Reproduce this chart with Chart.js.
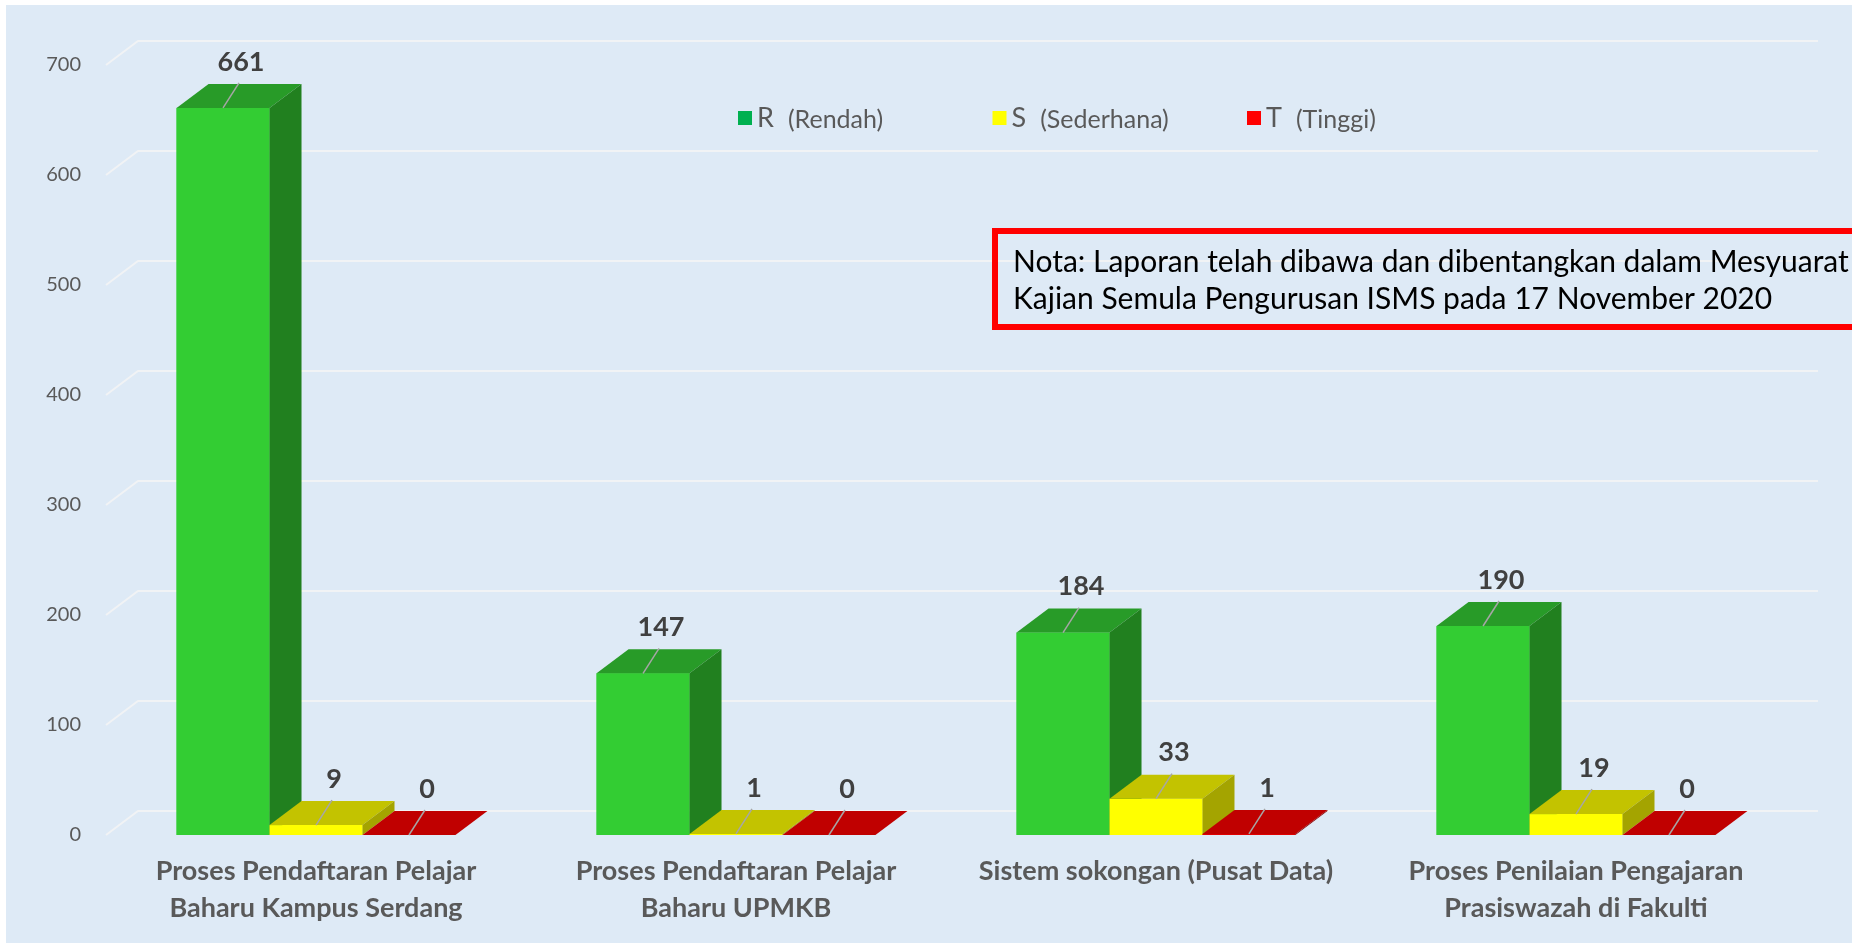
<!DOCTYPE html>
<html>
<head>
<meta charset="utf-8">
<title>Penilaian Risiko ISMS</title>
<script src="https://cdn.jsdelivr.net/npm/chart.js@4.4.1/dist/chart.umd.min.js"></script>
<style>
    html, body { margin: 0; padding: 0; background: #fff; overflow: hidden; }
    #wrap { position: relative; width: 1852px; height: 943px; }
    canvas { display: block; }
</style>
</head>
<body>
<div id="wrap"><canvas id="chart-risk" width="1852" height="943"></canvas></div>
<script>
// Kategori proses (label paksi-x, dua baris)
const categories = [
    ['Proses Pendaftaran Pelajar', 'Baharu Kampus Serdang'],
    ['Proses Pendaftaran Pelajar', 'Baharu UPMKB'],
    ['Sistem sokongan (Pusat Data)'],
    ['Proses Penilaian Pengajaran', 'Prasiswazah di Fakulti']
];

// Bilangan risiko mengikut tahap
const rendah = [661, 147, 184, 190];
const sederhana = [9, 1, 33, 19];
const tinggi = [0, 0, 1, 0];

const seriesCodes = ['R', 'S', 'T'];
const seriesNames = ['(Rendah)', '(Sederhana)', '(Tinggi)'];
const yTicks = [0, 100, 200, 300, 400, 500, 600, 700];

const noteLines = [
    'Nota: Laporan telah dibawa dan dibentangkan dalam Mesyuarat',
    'Kajian Semula Pengurusan ISMS pada 17 November 2020'
];

// Colours for the 3D boxes: front / top / side
const FRONT = ['#33CD33', '#FFFF00', '#E00000'];
const TOP = ['#289B28', '#C3C300', '#C00000'];
const SIDE = ['#21801F', '#A4A400', '#8C0000'];
const LEGEND = ['#00B050', '#FFFF00', '#FF0000'];

const TEXT_GREY = '#595959';
const FONT = 'Lato';

// depth of the fake 3D
const DX = 32, DY = 24;

/**
 * Background, white margin and the 3D back-wall gridlines
 */
const backdropPlugin = {
    id: 'backdrop',
    beforeDraw(chart) {
        const ctx = chart.ctx;
        const area = chart.chartArea;
        const y = chart.scales.y;
        ctx.save();
        ctx.fillStyle = '#ffffff';
        ctx.fillRect(0, 0, chart.width, chart.height);
        ctx.fillStyle = '#DEEAF6';
        ctx.fillRect(6, 5, chart.width - 6, chart.height - 5);

        ctx.strokeStyle = '#F1F3F5';
        ctx.lineWidth = 2;
        y.ticks.forEach(t => {
            const py = y.getPixelForValue(t.value);
            ctx.beginPath();
            ctx.moveTo(area.left, py);
            ctx.lineTo(area.left + DX, py - DY);
            ctx.lineTo(area.right + DX, py - DY);
            ctx.stroke();
        });
        ctx.restore();
    }
};

/**
 * Draw each bar as a box (front, top, side), then the value labels
 */
const boxPlugin = {
    id: 'boxes',
    afterDatasetsDraw(chart) {
        const ctx = chart.ctx;
        const nSets = chart.data.datasets.length;
        ctx.save();
        for (let i = 0; i < categories.length; i++) {
            for (let d = 0; d < nSets; d++) {
                const el = chart.getDatasetMeta(d).data[i];
                const { x, y, base, width } = el.getProps(['x', 'y', 'base', 'width'], true);
                const left = x - width / 2, right = x + width / 2;

                ctx.fillStyle = FRONT[d];
                ctx.fillRect(left, y, width, base - y);

                ctx.fillStyle = TOP[d];
                ctx.beginPath();
                ctx.moveTo(left, y);
                ctx.lineTo(left + DX, y - DY);
                ctx.lineTo(right + DX, y - DY);
                ctx.lineTo(right, y);
                ctx.closePath();
                ctx.fill();

                if (base - y > 0.5) {
                    ctx.fillStyle = SIDE[d];
                    ctx.beginPath();
                    ctx.moveTo(right, y);
                    ctx.lineTo(right + DX, y - DY);
                    ctx.lineTo(right + DX, base - DY);
                    ctx.lineTo(right, base);
                    ctx.closePath();
                    ctx.fill();
                }
            }
        }

        // value labels with leader lines
        ctx.font = `bold 27px ${FONT}`;
        ctx.textAlign = 'center';
        ctx.textBaseline = 'middle';
        for (let d = 0; d < nSets; d++) {
            const values = chart.data.datasets[d].data;
            chart.getDatasetMeta(d).data.forEach((el, i) => {
                const { x, y } = el.getProps(['x', 'y'], true);
                const lx = x + 18, ly = y - 46;
                ctx.strokeStyle = '#A6A6A6';
                ctx.lineWidth = 1.5;
                ctx.beginPath();
                ctx.moveTo(lx - 2, ly + 21);
                ctx.lineTo(x, y);
                ctx.stroke();
                ctx.fillStyle = '#404040';
                ctx.fillText(String(values[i]), lx, ly);
            });
        }
        ctx.restore();
    }
};

/**
 * Legend (code + description in two sizes) and the red note box
 */
const overlayPlugin = {
    id: 'overlay',
    afterDraw(chart) {
        const ctx = chart.ctx;
        ctx.save();
        ctx.textBaseline = 'middle';
        ctx.textAlign = 'left';
        const legendY = 118;
        seriesCodes.forEach((code, i) => {
            const sx = 738 + i * 254.5;
            ctx.fillStyle = LEGEND[i];
            ctx.fillRect(sx, legendY - 7, 14, 14);
            ctx.fillStyle = TEXT_GREY;
            ctx.font = `27px ${FONT}`;
            ctx.fillText(code, sx + 19, legendY);
            const w = ctx.measureText(code).width;
            ctx.font = `25px ${FONT}`;
            ctx.fillText(seriesNames[i], sx + 19 + w + 14, legendY + 2);
        });

        // note box, running off the right edge
        ctx.strokeStyle = '#FF0000';
        ctx.lineWidth = 6;
        ctx.strokeRect(995, 231, 900, 96);
        ctx.fillStyle = '#000000';
        ctx.font = `30px ${FONT}`;
        noteLines.forEach((line, i) => ctx.fillText(line, 1013, 262 + i * 37));
        ctx.restore();
    }
};

const ctx = document.getElementById('chart-risk').getContext('2d');

new Chart(ctx, {
    type: 'bar',
    data: {
        labels: categories,
        datasets: [
            { label: seriesCodes[0], data: rendah, backgroundColor: FRONT[0] },
            { label: seriesCodes[1], data: sederhana, backgroundColor: FRONT[1] },
            { label: seriesCodes[2], data: tinggi, backgroundColor: FRONT[2] }
        ]
    },
    options: {
        responsive: false,
        animation: false,
        devicePixelRatio: 1,
        categoryPercentage: 0.664,
        barPercentage: 1.0,
        layout: { padding: { top: 65, right: 66, bottom: 0, left: 0 } },
        plugins: {
            legend: { display: false },
            tooltip: { enabled: false }
        },
        scales: {
            x: {
                grid: { display: false, drawTicks: false },
                border: { display: false },
                afterFit: (scale) => { scale.height = 108; },
                ticks: {
                    color: TEXT_GREY,
                    padding: 18,
                    maxRotation: 0,
                    autoSkip: false,
                    font: { family: FONT, size: 27, weight: 'bold', lineHeight: '37px' }
                }
            },
            y: {
                min: yTicks[0],
                max: yTicks[yTicks.length - 1],
                grid: { display: false, drawTicks: false },
                border: { display: false },
                afterFit: (scale) => { scale.width = 106; },
                afterBuildTicks: (scale) => { scale.ticks = yTicks.map(v => ({ value: v })); },
                ticks: {
                    color: TEXT_GREY,
                    padding: 25,
                    font: { family: FONT, size: 20 }
                }
            }
        }
    },
    plugins: [backdropPlugin, boxPlugin, overlayPlugin]
});
</script>
</body>
</html>
